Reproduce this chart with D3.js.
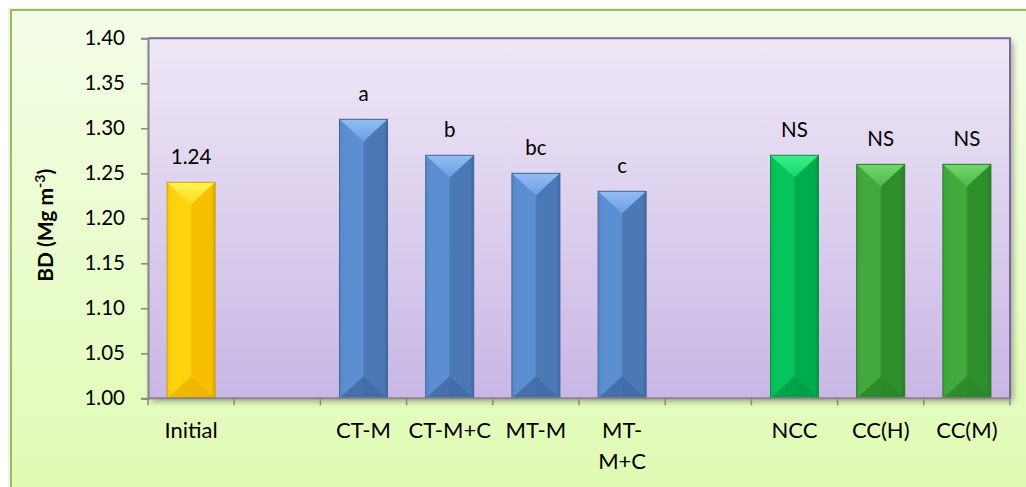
<!DOCTYPE html>
<html>
<head>
<meta charset="utf-8">
<script src="https://cdn.jsdelivr.net/npm/d3@7"></script>
<style>
  html, body { margin: 0; padding: 0; background: #ffffff; }
  svg { display: block; }
  text { font-family: Lato, "Open Sans", sans-serif; fill: #000; }
</style>
</head>
<body>
<svg id="chart" width="1026" height="487"></svg>
<script>
// Bulk density by treatment (empty slots separate the groups)
const categories = ["Initial", "", "CT-M", "CT-M+C", "MT-M", "MT-M+C", "", "NCC", "CC(H)", "CC(M)"];
const values     = [1.24, null, 1.31, 1.27, 1.25, 1.23, null, 1.27, 1.26, 1.26];
const barLabels  = ["1.24", "", "a", "b", "bc", "c", "", "NS", "NS", "NS"];
const groups     = ["initial", null, "tillage", "tillage", "tillage", "tillage", null, "ncc", "cc", "cc"];
const yTicks     = [1.00, 1.05, 1.10, 1.15, 1.20, 1.25, 1.30, 1.35, 1.40];
const yTitle     = "BD (Mg m";

const palette = {
  initial: { left: "#ffd40e", right: "#f6bf00", top1: "#fff456", top2: "#ffdc18", bottom: "#efb300", stroke: "#d6a200" },
  tillage: { left: "#5c8fd1", right: "#4b78b6", top1: "#93bdf3", top2: "#6a9fe2", bottom: "#416ba5", stroke: "#3c679c" },
  ncc:     { left: "#04c45b", right: "#00ac4d", top1: "#3cf08c", top2: "#12d56a", bottom: "#009d48", stroke: "#0a8f48" },
  cc:      { left: "#42a93f", right: "#2f8e2c", top1: "#72d66c", top2: "#4fba4a", bottom: "#2b8728", stroke: "#2a7a28" }
};

const svg = d3.select("#chart");
const W = 1026, H = 487;
const plot = { left: 148, right: 1010, top: 38.3, bottom: 398.3 };

const defs = svg.append("defs");

// Background gradients
const outerGrad = defs.append("linearGradient").attr("id", "outerBg").attr("x1", 0).attr("y1", 0).attr("x2", 0).attr("y2", 1);
outerGrad.append("stop").attr("offset", "0%").attr("stop-color", "#f4fde8");
outerGrad.append("stop").attr("offset", "100%").attr("stop-color", "#dffbb0");

const plotGrad = defs.append("linearGradient").attr("id", "plotBg").attr("x1", 0).attr("y1", 0).attr("x2", 0).attr("y2", 1);
plotGrad.append("stop").attr("offset", "0%").attr("stop-color", "#eee8f6");
plotGrad.append("stop").attr("offset", "100%").attr("stop-color", "#c9b6e5");

const shadow = defs.append("filter").attr("id", "shadow").attr("x", "-5%").attr("y", "-5%").attr("width", "115%").attr("height", "120%");
shadow.append("feGaussianBlur").attr("in", "SourceAlpha").attr("stdDeviation", 3).attr("result", "b");
shadow.append("feOffset").attr("in", "b").attr("dx", 3).attr("dy", 3).attr("result", "o");
shadow.append("feComponentTransfer").attr("in", "o").attr("result", "s")
  .append("feFuncA").attr("type", "linear").attr("slope", 0.35);
const merge = shadow.append("feMerge");
merge.append("feMergeNode").attr("in", "s");
merge.append("feMergeNode").attr("in", "SourceGraphic");

// Per-group bar gradients
Object.entries(palette).forEach(([key, c]) => {
  const g = defs.append("linearGradient").attr("id", "body-" + key).attr("x1", 0).attr("y1", 0).attr("x2", 1).attr("y2", 0);
  g.append("stop").attr("offset", "0%").attr("stop-color", d3.color(c.left).darker(0.15));
  g.append("stop").attr("offset", "12%").attr("stop-color", c.left);
  g.append("stop").attr("offset", "48%").attr("stop-color", c.left);
  g.append("stop").attr("offset", "52%").attr("stop-color", c.right);
  g.append("stop").attr("offset", "92%").attr("stop-color", c.right);
  g.append("stop").attr("offset", "100%").attr("stop-color", d3.color(c.right).darker(0.4));
  const t = defs.append("linearGradient").attr("id", "top-" + key).attr("x1", 0).attr("y1", 0).attr("x2", 0).attr("y2", 1);
  t.append("stop").attr("offset", "0%").attr("stop-color", c.top1);
  t.append("stop").attr("offset", "100%").attr("stop-color", c.top2);
});

// Outer chart area
svg.append("rect").attr("x", 8).attr("y", 8).attr("width", W + 20).attr("height", H + 20)
  .attr("fill", "#e6e6e6").attr("opacity", 0.6);
svg.append("rect").attr("x", 11).attr("y", 10).attr("width", W + 20).attr("height", H + 20)
  .attr("fill", "url(#outerBg)").attr("stroke", "#9bbb59").attr("stroke-width", 2);

// Scales
const x = d3.scaleBand()
  .domain(d3.range(categories.length))
  .range([plot.left, plot.right])
  .paddingInner(0.443)
  .paddingOuter(0.2215);

const y = d3.scaleLinear().domain([1.0, 1.4]).range([plot.bottom, plot.top]);

// Plot area
svg.append("rect")
  .attr("x", plot.left).attr("y", plot.top)
  .attr("width", plot.right - plot.left).attr("height", plot.bottom - plot.top)
  .attr("fill", "url(#plotBg)")
  .attr("filter", "url(#shadow)");
// purple frame on top and right
svg.append("path")
  .attr("d", `M${plot.left},${plot.top}H${plot.right}V${plot.bottom}`)
  .attr("fill", "none").attr("stroke", "#8064a2").attr("stroke-width", 2);

// Bars
const data = categories.map((c, i) => ({ i, c, v: values[i], label: barLabels[i], g: groups[i] }))
  .filter(d => d.v != null);

const bars = svg.append("g").selectAll("g").data(data).join("g");

bars.each(function (d) {
  const g = d3.select(this);
  const c = palette[d.g];
  const bx = x(d.i), bw = x.bandwidth();
  const by = y(d.v), bh = y(1.0) - y(d.v);
  const depth = bw * 0.46;
  g.append("rect").attr("x", bx).attr("y", by).attr("width", bw).attr("height", bh)
    .attr("fill", `url(#body-${d.g})`);
  g.append("path")
    .attr("d", `M${bx},${by}L${bx + bw},${by}L${bx + bw / 2},${by + depth}Z`)
    .attr("fill", `url(#top-${d.g})`);
  g.append("path")
    .attr("d", `M${bx},${by + bh}L${bx + bw},${by + bh}L${bx + bw / 2},${by + bh - depth}Z`)
    .attr("fill", c.bottom).attr("opacity", 0.85);
  g.append("rect").attr("x", bx).attr("y", by).attr("width", bw).attr("height", bh)
    .attr("fill", "none").attr("stroke", c.stroke).attr("stroke-width", 1);
});

// Value / significance labels
svg.append("g").selectAll("text").data(data).join("text")
  .attr("x", d => x(d.i) + x.bandwidth() / 2)
  .attr("y", d => y(d.v) - 18)
  .attr("text-anchor", "middle")
  .attr("font-size", 20.5)
  .text(d => d.label);

// Y axis
const yAxis = svg.append("g")
  .attr("transform", `translate(${plot.left},0)`)
  .call(d3.axisLeft(y).tickValues(yTicks).tickFormat(d3.format(".2f")).tickSize(7).tickPadding(16));
yAxis.select(".domain").attr("stroke", "#868686").attr("stroke-width", 2);
yAxis.selectAll(".tick line").attr("stroke", "#868686").attr("stroke-width", 1.5);
yAxis.selectAll(".tick text").attr("font-size", 20.5).attr("font-family", "Lato, sans-serif").attr("fill", "#000");

// X axis: tick marks on slot boundaries
const step = x.step();
const boundaries = d3.range(categories.length + 1).map(k => plot.left + k * step);
svg.append("line").attr("x1", plot.left).attr("x2", plot.right).attr("y1", plot.bottom).attr("y2", plot.bottom)
  .attr("stroke", "#868686").attr("stroke-width", 2);
svg.append("g").selectAll("line").data(boundaries).join("line")
  .attr("x1", d => d).attr("x2", d => d)
  .attr("y1", plot.bottom).attr("y2", plot.bottom + 7)
  .attr("stroke", "#868686").attr("stroke-width", 1.5);

// Category labels (long ones wrap onto two lines)
const catLines = c => c === "MT-M+C" ? ["MT-", "M+C"] : [c];
const catG = svg.append("g").selectAll("text").data(categories.map((c, i) => ({ c, i })).filter(d => d.c))
  .join("text")
  .attr("x", d => x(d.i) + x.bandwidth() / 2)
  .attr("y", plot.bottom + 40)
  .attr("text-anchor", "middle")
  .attr("font-size", 22);
catG.each(function (d) {
  const t = d3.select(this);
  catLines(d.c).forEach((line, k) => {
    t.append("tspan").attr("x", x(d.i) + x.bandwidth() / 2).attr("dy", k === 0 ? 0 : 31).text(line);
  });
});

// Y axis title
const title = svg.append("text")
  .attr("transform", `translate(53,${(plot.top + plot.bottom) / 2 + 7}) rotate(-90)`)
  .attr("text-anchor", "middle")
  .attr("font-size", 21)
  .attr("font-weight", "bold");
title.append("tspan").text(yTitle);
title.append("tspan").attr("dy", -8).attr("font-size", 14).text("-3");
title.append("tspan").attr("dy", 8).text(")");
</script>
</body>
</html>
